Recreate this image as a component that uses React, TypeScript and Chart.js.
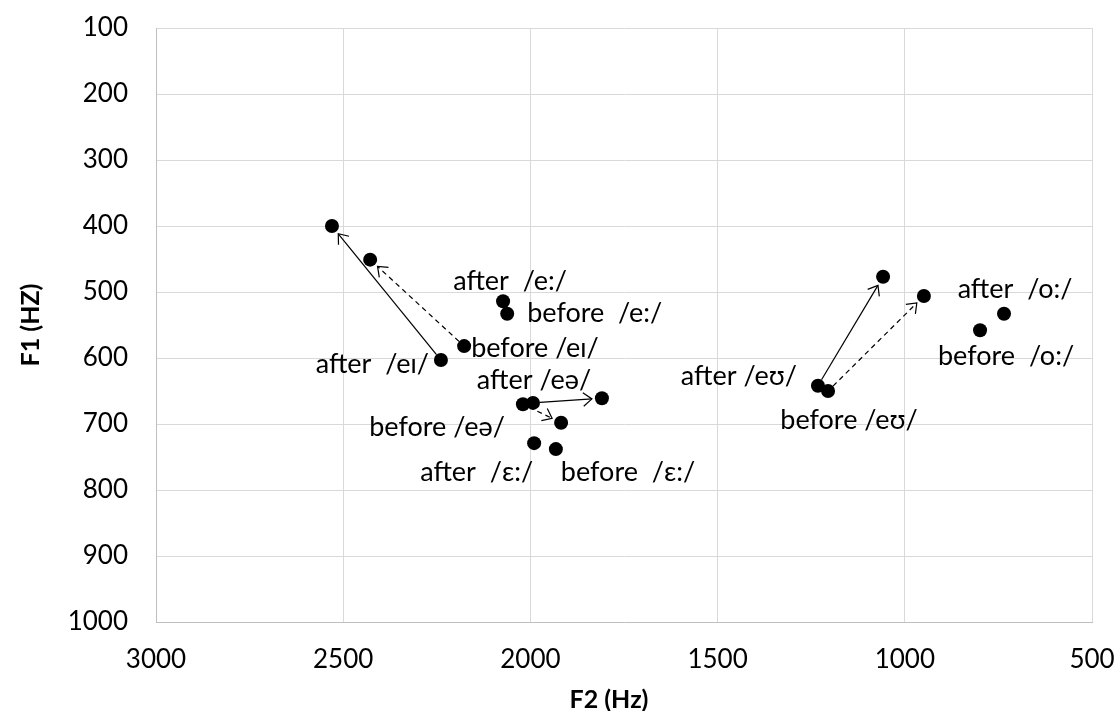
import { useEffect, useRef } from 'react';
import { Chart, registerables } from 'chart.js';

Chart.register(...registerables);

// ---- data ----
const pointNames = [
  'after /eɪ/ start', 'after /eɪ/ end', 'before /eɪ/ start', 'before /eɪ/ end',
  'after /e:/', 'before /e:/',
  'after /eə/ start', 'after /eə/ end', 'before /eə/ start', 'before /eə/ end',
  'after /ɛ:/', 'before /ɛ:/',
  'after /eʊ/ start', 'after /eʊ/ end', 'before /eʊ/ start', 'before /eʊ/ end',
  'after /o:/', 'before /o:/',
];
const f2Hz = [2239, 2530, 2177, 2428, 2073, 2062, 1993, 1809, 2020, 1918, 1990, 1932, 1232, 1058, 1205, 949, 735, 799];
const f1Hz = [603, 400, 582, 451, 514, 533, 668, 661, 670, 698, 729, 738, 642, 477, 650, 506, 533, 558];

const arrowFrom = [0, 2, 6, 8, 12, 14];
const arrowTo = [1, 3, 7, 9, 13, 15];
const arrowDashed = [false, true, false, true, false, true];

const labelTexts = [
  'after  /eɪ/', 'before /eɪ/', 'after  /e:/', 'before  /e:/', 'after /eə/', 'before /eə/',
  'after  /ɛ:/', 'before  /ɛ:/', 'after /eʊ/', 'before /eʊ/', 'after  /o:/', 'before  /o:/',
];
const labelPoint = [0, 2, 4, 5, 6, 8, 10, 11, 12, 14, 16, 17];

const f2Ticks = [3000, 2500, 2000, 1500, 1000, 500];
const f1Ticks = [100, 200, 300, 400, 500, 600, 700, 800, 900, 1000];

const xTitle = 'F2 (Hz)';
const yTitle = 'F1 (HZ)';

// ---- styling (label placement relative to its point, in px) ----
const labelStyle: { dx: number; dy: number; align: CanvasTextAlign }[] = [
  { dx: -12, dy: 4, align: 'right' },
  { dx: 7, dy: 2, align: 'left' },
  { dx: 7, dy: -20, align: 'center' },
  { dx: 20, dy: 0, align: 'left' },
  { dx: 1, dy: -23, align: 'center' },
  { dx: -18, dy: 23, align: 'right' },
  { dx: -1, dy: 29, align: 'right' },
  { dx: 5, dy: 23, align: 'left' },
  { dx: -21, dy: -9, align: 'right' },
  { dx: 21, dy: 29, align: 'center' },
  { dx: 11, dy: -24, align: 'center' },
  { dx: 26, dy: 26, align: 'center' },
];

const FONT = 'Lato';
const TICK_FS = 26;
const LABEL_FS = 27;
const TITLE_FS = 25;

const arrowPlugin = {
  id: 'arrows',
  beforeDatasetsDraw(chart: any) {
    const { ctx, scales } = chart;
    const xs = scales.x, ys = scales.y;
    ctx.save();
    ctx.strokeStyle = '#000';
    ctx.lineWidth = 1.2;
    arrowFrom.forEach((a, i) => {
      const b = arrowTo[i];
      const x1 = xs.getPixelForValue(f2Hz[a]);
      const y1 = ys.getPixelForValue(f1Hz[a]);
      const x2 = xs.getPixelForValue(f2Hz[b]);
      const y2 = ys.getPixelForValue(f1Hz[b]);
      const ang = Math.atan2(y2 - y1, x2 - x1);
      const len = Math.hypot(x2 - x1, y2 - y1);
      const sx = x1 + Math.cos(ang) * 7;
      const sy = y1 + Math.sin(ang) * 7;
      const tx = x1 + Math.cos(ang) * (len - 10);
      const ty = y1 + Math.sin(ang) * (len - 10);
      ctx.setLineDash(arrowDashed[i] ? [5, 4] : []);
      ctx.beginPath();
      ctx.moveTo(sx, sy);
      ctx.lineTo(tx, ty);
      ctx.stroke();
      ctx.setLineDash([]);
      const hl = 11, ha = (38 * Math.PI) / 180;
      ctx.beginPath();
      ctx.moveTo(tx - hl * Math.cos(ang - ha), ty - hl * Math.sin(ang - ha));
      ctx.lineTo(tx, ty);
      ctx.lineTo(tx - hl * Math.cos(ang + ha), ty - hl * Math.sin(ang + ha));
      ctx.stroke();
    });
    ctx.restore();
  },
};

const labelPlugin = {
  id: 'pointLabels',
  afterDatasetsDraw(chart: any) {
    const { ctx, scales } = chart;
    ctx.save();
    ctx.fillStyle = '#000';
    ctx.font = `${LABEL_FS}px ${FONT}`;
    ctx.textBaseline = 'middle';
    labelTexts.forEach((t, i) => {
      const p = labelPoint[i];
      const st = labelStyle[i];
      const x = scales.x.getPixelForValue(f2Hz[p]) + st.dx;
      const y = scales.y.getPixelForValue(f1Hz[p]) + st.dy;
      ctx.textAlign = st.align;
      ctx.fillText(t, x, y);
    });
    ctx.restore();
  },
};

const titlePlugin = {
  id: 'axisTitles',
  afterDraw(chart: any) {
    const { ctx, chartArea } = chart;
    ctx.save();
    ctx.fillStyle = '#000';
    ctx.font = `bold ${TITLE_FS}px ${FONT}`;
    ctx.textAlign = 'center';
    ctx.textBaseline = 'middle';
    ctx.fillText(xTitle, (chartArea.left + chartArea.right) / 2 - 15, 700);
    ctx.translate(31, (chartArea.top + chartArea.bottom) / 2);
    ctx.rotate(-Math.PI / 2);
    ctx.fillText(yTitle, 0, 0);
    ctx.restore();
  },
};

export default function App() {
  const ref = useRef<HTMLCanvasElement>(null);
  useEffect(() => {
    document.body.style.margin = '0';
    const chart = new Chart(ref.current as HTMLCanvasElement, {
      type: 'scatter',
      data: {
        datasets: [
          {
            label: 'vowels',
            data: f2Hz.map((x, i) => ({ x, y: f1Hz[i] })),
            pointRadius: 7,
            pointHoverRadius: 7,
            pointBackgroundColor: '#000',
            pointBorderColor: '#000',
            pointBorderWidth: 0,
          },
        ],
      },
      options: {
        responsive: false,
        animation: false,
        layout: { padding: { top: 28, right: 25, left: 0, bottom: 0 } },
        plugins: { legend: { display: false }, tooltip: { enabled: false } },
        scales: {
          x: {
            type: 'linear',
            reverse: true,
            min: 500,
            max: 3000,
            afterBuildTicks: (s: any) => { s.ticks = f2Ticks.map((v) => ({ value: v })); },
            ticks: { color: '#000', font: { family: FONT, size: TICK_FS }, padding: 22, callback: (v: any) => String(v) },
            grid: { color: '#d9d9d9', drawTicks: false },
            border: { color: '#bfbfbf' },
            afterFit: (s: any) => { s.height = 89; s.paddingLeft = 0; s.paddingRight = 0; },
          },
          y: {
            type: 'linear',
            reverse: true,
            min: 100,
            max: 1000,
            afterBuildTicks: (s: any) => { s.ticks = f1Ticks.map((v) => ({ value: v })); },
            ticks: { color: '#000', font: { family: FONT, size: TICK_FS }, padding: 28, callback: (v: any) => String(v) },
            grid: { color: '#d9d9d9', drawTicks: false },
            border: { color: '#bfbfbf' },
            afterFit: (s: any) => { s.width = 156; s.paddingTop = 0; s.paddingBottom = 0; },
          },
        },
      },
      plugins: [arrowPlugin, labelPlugin, titlePlugin],
    });
    return () => chart.destroy();
  }, []);
  return <canvas ref={ref} width={1117} height={711} style={{ display: 'block' }} />;
}
